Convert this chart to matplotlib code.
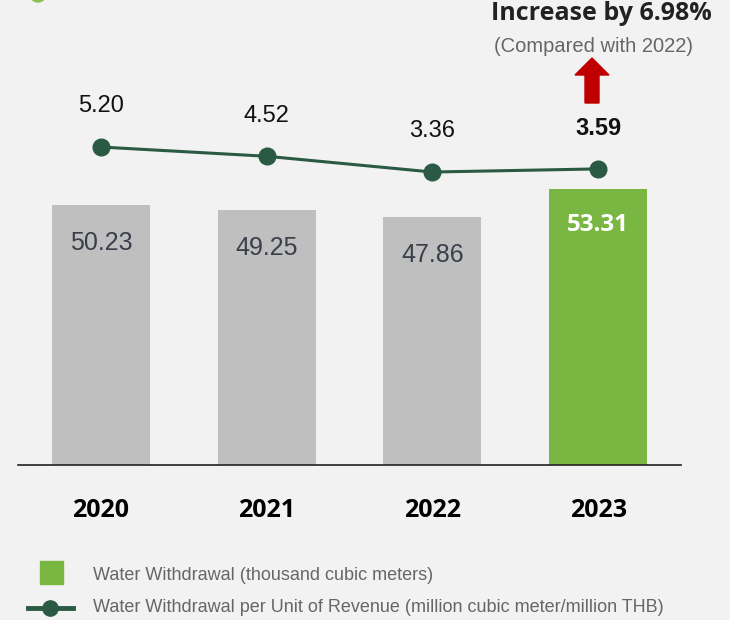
#график: забор воды по годам + удельный показатель
import matplotlib.pyplot as plt
from matplotlib.patches import Ellipse, FancyArrow

years = ['2020', '2021', '2022', '2023']
withdrawal = [50.23, 49.25, 47.86, 53.31]  #тыс. куб. м
per_revenue = [5.20, 4.52, 3.36, 3.59]  #млн куб. м / млн THB
withdrawal_labels = ['50.23', '49.25', '47.86', '53.31']
per_revenue_labels = ['5.20', '4.52', '3.36', '3.59']

bg = '#f2f2f2'
gray_bar = '#bfbfbf'
green_bar = '#7ab642'
line_col = '#2b5a44'


def main():
    plt.rcParams['font.family'] = ['Liberation Sans', 'DejaVu Sans']
    fig = plt.figure(figsize=(7.45, 6.2), dpi=100)
    fig.patch.set_facecolor(bg)
    # справа белая полоска
    fig.patches.append(plt.Rectangle((730 / 745, 0), 15 / 745, 1, transform=fig.transFigure,
                                     color='white', zorder=0))
    # кусочек зелёного круга в левом верхнем углу
    fig.patches.append(Ellipse((38 / 745, 1 + 6 / 620), 16 / 745, 16 / 620,
                               transform=fig.transFigure, color='#8cc152', zorder=1))

    ax = fig.add_axes([18 / 745, 155 / 620, 663 / 745, 465 / 620])
    ax.set_zorder(2)
    ax.set_facecolor('none')
    x = list(range(len(years)))
    colors = [gray_bar, gray_bar, gray_bar, green_bar]
    ax.bar(x, withdrawal, 0.59, color=colors, zorder=2)
    ax.set_xlim(-0.5, 3.5)
    ax.set_ylim(0, 89.9)
    for s in ['top', 'right', 'left']:
        ax.spines[s].set_visible(False)
    ax.spines['bottom'].set_color('#222222')
    ax.spines['bottom'].set_linewidth(1.2)
    ax.set_yticks([])
    ax.set_xticks(x)
    ax.set_xticklabels(years, fontsize=18, fontweight='bold', family='Open Sans')
    ax.tick_params(axis='x', length=0, pad=24)

    for i, v in enumerate(withdrawal):
        if i == 3:
            ax.text(i, v - 7, withdrawal_labels[i], ha='center', va='center',
                    fontsize=17.5, fontweight='bold', color='white', family='Open Sans')
        else:
            ax.text(i, v - 7.3, withdrawal_labels[i], ha='center', va='center',
                    fontsize=18, color='#3a3f4a')

    ax2 = ax.twinx()
    ax2.set_zorder(3)
    ax2.set_ylim(-18.2, 16.02)
    ax2.axis('off')
    ax2.plot(x, per_revenue, color=line_col, lw=2.2, marker='o', markersize=12,
             zorder=3)
    for i, v in enumerate(per_revenue):
        ax2.text(i, v + 3.0, per_revenue_labels[i], ha='center', va='center',
                 fontsize=17, color='#111111',
                 fontweight='bold' if i == 3 else 'normal')

    #надпись про рост и красная стрелка
    fig.text(601 / 745, 1 - 13 / 620, 'Increase by 6.98%', ha='center', va='center',
             fontsize=18, fontweight='bold', color='#222222', family='Open Sans')
    fig.text(594 / 745, 1 - 46 / 620, '(Compared with 2022)', ha='center', va='center',
             fontsize=14.5, color='#666666')
    fig.patches.append(FancyArrow(592 / 745, 1 - 103 / 620, 0, 45 / 620,
                                  width=14 / 745, head_width=34 / 745,
                                  head_length=17 / 620, length_includes_head=True,
                                  transform=fig.transFigure, color='#c00000', zorder=3))

    #легенда
    fig.patches.append(plt.Rectangle((40 / 745, 1 - 584 / 620), 23 / 745, 23 / 620,
                                     transform=fig.transFigure, color=green_bar))
    fig.text(93 / 745, 1 - 575 / 620, 'Water Withdrawal (thousand cubic meters)',
             ha='left', va='center', fontsize=13, color='#666666')
    fig.add_artist(plt.Line2D([28 / 745, 73 / 745], [1 - 608 / 620, 1 - 608 / 620],
                              transform=fig.transFigure, color=line_col, lw=3.5))
    fig.add_artist(plt.Line2D([50 / 745], [1 - 608 / 620], transform=fig.transFigure,
                              color=line_col, marker='o', markersize=11))
    fig.text(93 / 745, 1 - 607 / 620,
             'Water Withdrawal per Unit of Revenue (million cubic meter/million THB)',
             ha='left', va='center', fontsize=13, color='#666666')

    fig.savefig('out.png', dpi=100, facecolor=fig.get_facecolor())


main()
